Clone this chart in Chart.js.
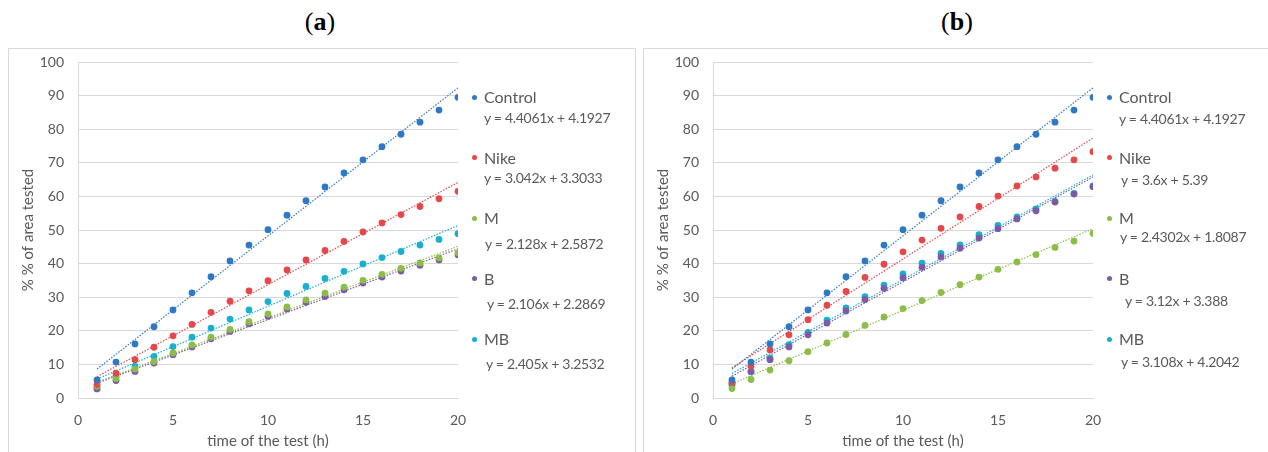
<!DOCTYPE html>
<html>
<head>
<meta charset="utf-8">
<script src="https://cdn.jsdelivr.net/npm/chart.js@4.4.1/dist/chart.umd.min.js"></script>
<style>
    body { margin: 0; width: 1268px; height: 452px; overflow: hidden; background: #fff; position: relative; font-family: Lato, sans-serif; }
    .title { position: absolute; top: 7px; font-family: 'Liberation Serif', serif; font-size: 26px; color: #000; transform: translateX(-50%); }
    .panel { position: absolute; top: 48px; height: 430px; border: 1px solid #d9d9d9; box-sizing: border-box; background: #fff; }
    .panel canvas { position: absolute; left: 0; top: 0; }
    .leg { position: absolute; color: #595959; white-space: nowrap; line-height: 20px; }
    .leg.name { font-size: 16px; }
    .leg.eq { font-size: 14px; letter-spacing: -0.3px; }
    .dot { position: absolute; width: 5px; height: 5px; border-radius: 50%; }
</style>
</head>
<body>
<div class="title" style="left:320px">(<b>a</b>)</div>
<div class="title" style="left:957px">(<b>b</b>)</div>

<div class="panel" id="panelA" style="left:8px; width:628px">
    <canvas id="chartA" width="470" height="404"></canvas>
</div>
<div class="panel" id="panelB" style="left:643px; width:626px">
    <canvas id="chartB" width="470" height="404"></canvas>
</div>

<script>
const hours = [1, 2, 3, 4, 5, 6, 7, 8, 9, 10, 11, 12, 13, 14, 15, 16, 17, 18, 19, 20];
const seriesNames = ['Control', 'Nike', 'M', 'B', 'MB'];

// panel (a)
const a_control = [5.4, 10.7, 16.1, 21.2, 26.2, 31.3, 36.1, 40.8, 45.5, 50.1, 54.4, 58.7, 62.8, 67.0, 70.9, 74.8, 78.5, 82.1, 85.7, 89.5];
const a_nike = [4.0, 7.4, 11.4, 15.1, 18.5, 21.9, 25.5, 28.8, 31.9, 34.9, 38.1, 41.1, 43.9, 46.6, 49.4, 52.1, 54.6, 57.0, 59.3, 61.5];
const a_m = [3.5, 5.8, 8.6, 10.9, 13.4, 15.8, 18.1, 20.4, 22.7, 25.0, 27.1, 29.2, 31.2, 33.0, 35.0, 36.8, 38.6, 40.2, 41.7, 43.2];
const a_b = [2.7, 5.2, 7.9, 10.4, 12.9, 15.2, 17.6, 19.8, 22.1, 24.3, 26.5, 28.5, 30.2, 32.2, 34.2, 36.0, 37.8, 39.5, 41.1, 42.6];
const a_mb = [3.0, 6.4, 9.4, 12.4, 15.3, 18.1, 20.8, 23.5, 26.2, 28.7, 31.1, 33.2, 35.6, 37.7, 39.9, 41.8, 43.6, 45.5, 47.2, 48.9];
const a_slopes = [4.4061, 3.042, 2.128, 2.106, 2.405];
const a_intercepts = [4.1927, 3.3033, 2.5872, 2.2869, 3.2532];

// panel (b)
const b_control = [5.4, 10.7, 16.1, 21.2, 26.2, 31.3, 36.1, 40.8, 45.5, 50.1, 54.4, 58.7, 62.8, 67.0, 70.9, 74.8, 78.5, 82.1, 85.7, 89.5];
const b_nike = [4.7, 9.5, 14.3, 18.8, 23.3, 27.6, 31.7, 35.9, 39.8, 43.5, 47.0, 50.5, 53.9, 57.0, 60.1, 63.1, 65.8, 68.4, 70.9, 73.3];
const b_m = [2.8, 5.5, 8.3, 11.1, 13.8, 16.4, 18.9, 21.6, 24.1, 26.6, 29.0, 31.4, 33.7, 36.0, 38.3, 40.5, 42.7, 44.8, 46.7, 49.0];
const b_b = [4.3, 7.9, 11.4, 15.2, 18.8, 22.3, 25.9, 29.3, 32.6, 35.8, 38.9, 42.0, 44.6, 47.6, 50.4, 53.3, 55.7, 58.3, 60.7, 62.9];
const b_mb = [3.8, 7.8, 11.9, 15.9, 19.5, 23.2, 26.8, 30.2, 33.6, 36.9, 40.1, 43.0, 45.6, 48.6, 51.4, 53.9, 56.3, 58.5, 60.9, 63.1];
const b_slopes = [4.4061, 3.6, 2.4302, 3.12, 3.108];
const b_intercepts = [4.1927, 5.39, 1.8087, 3.388, 4.2042];

const xTicks = [0, 5, 10, 15, 20];
const yTicks = [0, 10, 20, 30, 40, 50, 60, 70, 80, 90, 100];

const colors = ['#2f78c4', '#e4484b', '#8bbd48', '#7d5aa6', '#19afd0'];
const textGray = '#595959';
const gridGray = '#d9d9d9';

const makeChart = (canvasId, series, slopes, intercepts) => {
    let datasets = [];
    series.forEach((values, i) => {
        datasets.push({
            type: 'scatter',
            label: seriesNames[i],
            data: hours.map((h, k) => ({x: h, y: values[k]})),
            backgroundColor: colors[i],
            borderWidth: 0,
            pointRadius: 3.4,
            order: 1
        });
    });
    series.forEach((values, i) => {
        const x0 = hours[0], x1 = hours[hours.length - 1];
        datasets.push({
            type: 'line',
            label: seriesNames[i] + ' trend',
            data: [
                {x: x0, y: slopes[i] * x0 + intercepts[i]},
                {x: x1, y: slopes[i] * x1 + intercepts[i]}
            ],
            borderColor: colors[i],
            borderWidth: 1.2,
            borderDash: [1.5, 1.5],
            pointRadius: 0,
            fill: false,
            order: 2
        });
    });

    // invisible tick marks keep the label gap without inflating the chart padding
    return new Chart(document.getElementById(canvasId), {
        type: 'scatter',
        data: {datasets: datasets},
        options: {
            responsive: false,
            animation: false,
            devicePixelRatio: 1,
            layout: {padding: {top: 13, right: 21, left: 0, bottom: 0}},
            plugins: {legend: {display: false}, tooltip: {enabled: false}},
            scales: {
                x: {
                    type: 'linear',
                    min: 0, max: 20,
                    afterFit: (scale) => { scale.height = 55; },
                    afterBuildTicks: (scale) => { scale.ticks = xTicks.map(v => ({value: v})); },
                    grid: {display: true, drawOnChartArea: false, drawTicks: true, tickLength: 10, tickColor: 'rgba(0,0,0,0)'},
                    border: {display: true, color: gridGray, width: 1},
                    ticks: {color: textGray, font: {family: 'Lato', size: 14}, padding: 4, maxRotation: 0},
                    title: {display: true, text: 'time of the test (h)', color: textGray, font: {family: 'Lato', size: 15}, padding: {top: 0, bottom: 3}}
                },
                y: {
                    min: 0, max: 100,
                    afterFit: (scale) => { scale.width = 69; },
                    afterBuildTicks: (scale) => { scale.ticks = yTicks.map(v => ({value: v})); },
                    grid: {color: gridGray, lineWidth: 1, drawTicks: true, tickLength: 10, tickColor: 'rgba(0,0,0,0)'},
                    border: {display: true, color: gridGray, width: 1},
                    ticks: {color: textGray, font: {family: 'Lato', size: 14}, padding: 4},
                    title: {display: true, text: '% % of area tested', color: textGray, font: {family: 'Lato', size: 15}, padding: {top: 10, bottom: 0}}
                }
            }
        }
    });
}

// legend rows: name centre y, equation offset below and left indent (panel coords)
const makeLegend = (panelId, slopes, intercepts, eqOffsets, eqIndents) => {
    const panel = document.getElementById(panelId);
    seriesNames.forEach((name, i) => {
        const cy = 48 + i * 60.6;
        const dot = document.createElement('span');
        dot.className = 'dot';
        dot.style.left = '463px';
        dot.style.top = (cy - 2.5) + 'px';
        dot.style.background = colors[i];
        panel.appendChild(dot);

        const label = document.createElement('div');
        label.className = 'leg name';
        label.style.left = '475px';
        label.style.top = (cy - 10) + 'px';
        label.textContent = name;
        panel.appendChild(label);

        const eq = document.createElement('div');
        eq.className = 'leg eq';
        eq.style.left = (475 + eqIndents[i]) + 'px';
        eq.style.top = (cy + eqOffsets[i] - 10) + 'px';
        eq.textContent = 'y = ' + slopes[i] + 'x + ' + intercepts[i];
        panel.appendChild(eq);
    });
}

makeChart('chartA', [a_control, a_nike, a_m, a_b, a_mb], a_slopes, a_intercepts);
makeChart('chartB', [b_control, b_nike, b_m, b_b, b_mb], b_slopes, b_intercepts);
makeLegend('panelA', a_slopes, a_intercepts, [21, 20, 26, 25, 25], [0, 0, 1, 3, 2]);
makeLegend('panelB', b_slopes, b_intercepts, [22, 22, 19, 22, 23], [0, 2, 1, 6, 2]);
</script>
</body>
</html>
